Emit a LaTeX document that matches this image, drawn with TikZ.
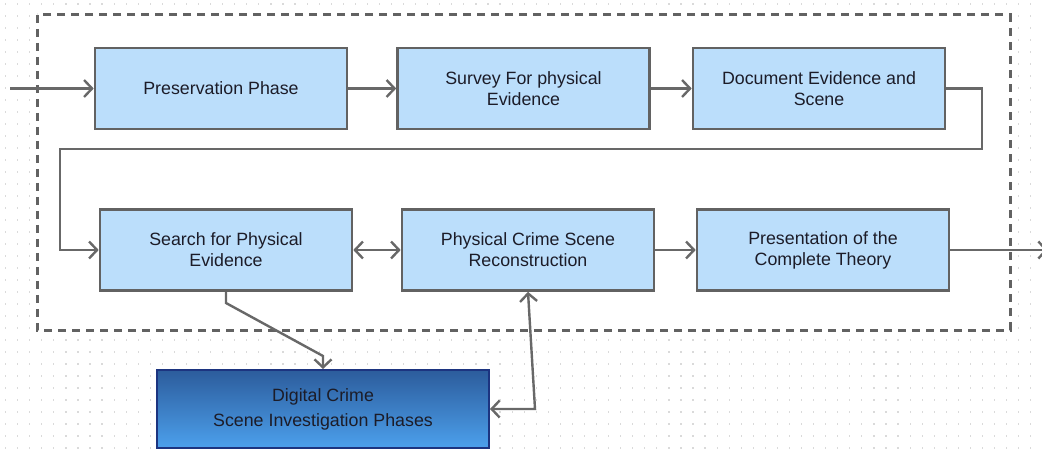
\documentclass[tikz,border=0pt]{standalone}
\usepackage{fontspec}
\setmainfont{Liberation Sans}
\usetikzlibrary{arrows.meta}
\definecolor{boxfill}{RGB}{187,222,251}
\definecolor{edgegray}{RGB}{98,98,98}
\definecolor{linegray}{RGB}{104,104,104}
\definecolor{dotgray}{RGB}{218,218,218}
\definecolor{navyedge}{RGB}{28,52,128}
\definecolor{digtop}{RGB}{44,92,156}
\definecolor{digbot}{RGB}{76,160,236}
\definecolor{inktext}{RGB}{28,28,40}
\begin{document}
\begin{tikzpicture}[x=1pt,y=-1pt,
  phase/.style={draw=edgegray, line width=2.6pt, fill=boxfill,
    minimum width=252pt, minimum height=81pt, inner sep=0pt, align=center,
    font=\fontsize{17.8}{21}\selectfont, text=inktext},
  digitalbox/.style={draw=navyedge, line width=2pt, top color=digtop, bottom color=digbot,
    minimum width=332pt, minimum height=78pt, inner sep=0pt, align=center,
    font=\fontsize{17.8}{25}\selectfont, text=inktext},
  tip/.tip={Straight Barb[length=8pt,width=17pt]},
  flow/.style={draw=linegray, line width=2.4pt, -tip},
  twoway/.style={draw=linegray, line width=2.4pt, tip-tip},
  groupframe/.style={draw=edgegray, line width=3pt, dash pattern=on 8pt off 6pt, fill=white}]

% canvas
\useasboundingbox (0,0) rectangle (1042,449);
\fill[white] (0,0) rectangle (1042,449);
% dotted grid
\foreach \i in {0,...,86}
  \foreach \j in {0,...,37}
    \fill[dotgray] (5+12.06*\i, 3+12*\j) rectangle ++(1.2,1.6);

% dashed group frame
\draw[groupframe] (37,15) rectangle (1010,330);

% phase boxes
\node[phase] (pres)   at (221,88.5) {Preservation Phase};
\node[phase] (survey) at (523.5,88.5) {Survey For physical\\Evidence};
\node[phase] (doc)    at (819,88.5) {Document Evidence and\\Scene};
\node[phase] (search) at (226,250) {Search for Physical\\Evidence};
\node[phase] (recon)  at (528,250) {Physical Crime Scene\\Reconstruction};
\node[phase] (theory) at (823,250) {Presentation of the\\Complete Theory};
\node[digitalbox] (digital) at (323,409) {Digital Crime\\Scene Investigation Phases};

% route points
\coordinate (in)  at (10,88.5);
\coordinate (r1)  at (982,149);
\coordinate (l1)  at (60,149);
\coordinate (b1)  at (226,303);
\coordinate (b2)  at (323,356);
\coordinate (c1)  at (535,409);
\coordinate (out) at (1048,250);

% connectors
\draw[flow] (in) -- (pres.west);
\draw[flow] (pres) -- (survey);
\draw[flow] (survey) -- (doc);
\draw[flow] (doc.east) -| (r1) -- (l1) |- (search.west);
\draw[twoway] (search) -- (recon);
\draw[flow] (recon) -- (theory);
\draw[flow] (theory.east) -- (out);
\draw[flow] (search.south) -- (b1) -- (b2) -- (digital.north);
\draw[twoway] (recon.south) -- (c1) -- (digital.east);
\end{tikzpicture}
\end{document}
